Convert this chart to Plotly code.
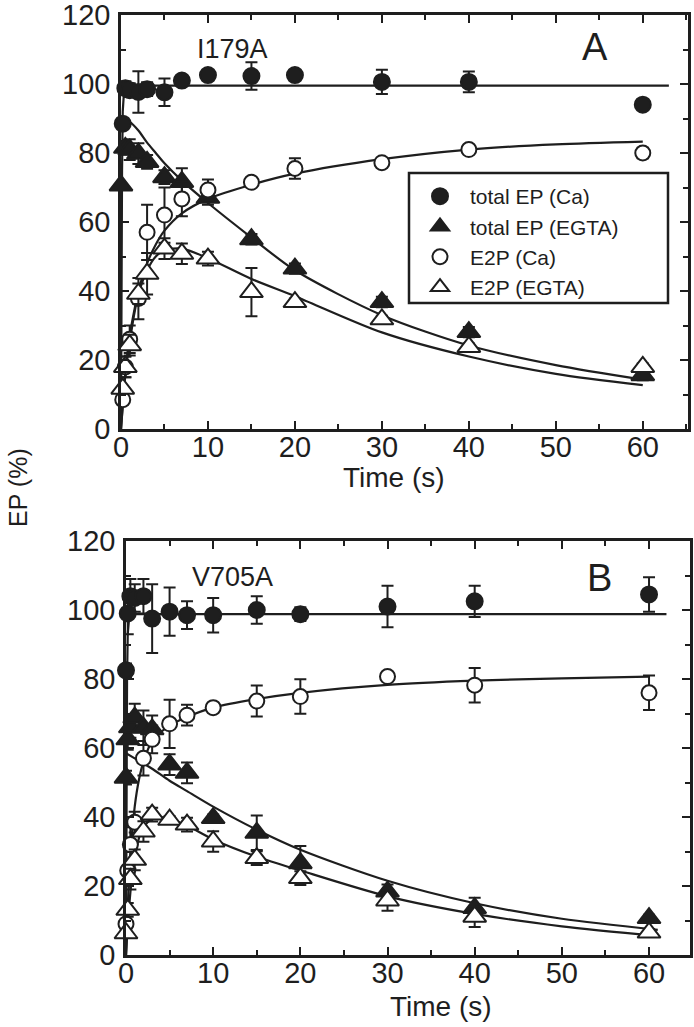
import plotly.graph_objects as go

# ---------------- Panel A : I179A ----------------
tA = [0.2, 0.5, 1, 2, 3, 5, 7, 10, 15, 20, 30, 40, 60]
tA0 = [0, 0.5, 1, 2, 3, 5, 7, 10, 15, 20, 30, 40, 60]

A_totCa = [88.5, 98.8, 98.2, 97.7, 98.5, 97.6, 101, 102.6, 102.3, 102.6, 100.6, 100.6, 94]
A_totCa_err = [0, 2, 2, 6, 2, 4, 0, 0, 4, 0, 3.5, 3, 0]

A_totEG = [70.6, 81.5, 81, 79.8, 77.4, 73, 71.6, 67, 55, 46.5, 36.8, 28.1, 15.6]
A_totEG_err = [0, 2, 3, 3, 2, 2, 4, 2, 1.5, 1.5, 1.5, 1.5, 1.5]

A_e2pCa = [8.5, 18, 26, 37.8, 57, 62, 66.7, 69.3, 71.5, 75.5, 77.2, 81, 80]
A_e2pCa_err = [0, 3, 4, 6, 8, 8, 5, 3, 0, 3, 0, 0, 1.5]

A_e2pEG = [11.7, 18, 24.3, 39.2, 45, 52.3, 50.8, 49.4, 39.7, 36.8, 31.8, 23.8, 18]
A_e2pEG_err = [0, 3, 3, 3, 6, 3, 3, 2, 7, 1, 1, 1, 1]

# fitted curves (panel A)
fA_totCa_t = [0, 0.05, 0.12, 0.2, 0.35, 0.6, 63]
fA_totCa_v = [0, 40, 75, 92, 98, 99.5, 99.5]
fA_totEG_t = [0, 1, 2, 3, 4, 5, 7, 10, 15, 20, 30, 40, 50, 60]
fA_totEG_v = [90, 89, 86.5, 83, 80, 77, 72, 65.5, 55.5, 46, 33, 24.2, 18.5, 14.3]
fA_e2pCa_t = [0, 0.3, 0.6, 1, 1.5, 2, 3, 4, 5, 7, 10, 15, 20, 30, 40, 50, 60]
fA_e2pCa_v = [0, 10, 19, 27, 34, 40, 48, 53.5, 57.5, 62.5, 66.7, 70.8, 74, 78.2, 81, 82.5, 83.3]
fA_e2pEG_t = [0, 0.3, 0.6, 1, 1.5, 2, 3, 4, 5, 7, 10, 15, 20, 30, 40, 50, 60]
fA_e2pEG_v = [0, 10, 18, 25, 33, 39, 46, 50, 51.8, 52.3, 49.5, 43.5, 38.5, 28, 21, 16, 12.7]

# ---------------- Panel B : V705A ----------------
tB = [0, 0.2, 0.5, 1, 2, 3, 5, 7, 10, 15, 20, 30, 40, 60]

B_totCa = [82.5, 99, 104, 103.5, 104, 97.5, 99.5, 98.5, 98.5, 100, 98.8, 101, 102.5, 104.5]
B_totCa_err = [2, 6, 5, 4, 5, 10, 7, 4, 5, 4, 2, 6, 4.5, 5]

B_totEG = [51.4, 62.5, 66, 68.8, 65.9, 65.4, 55.2, 52.8, 39.7, 35.4, 26.6, 18.4, 13.6, 10.7]
B_totEG_err = [2, 3, 3, 4, 5, 4, 3, 3, 1, 5, 5, 2, 3, 1]

B_e2pCa = [9, 24.5, 32, 38.5, 57, 62.5, 67, 69.5, 71.7, 73.6, 74.9, 80.7, 78.2, 76]
B_e2pCa_err = [1, 2, 5, 3, 5, 4, 7, 3, 0, 4.5, 5, 1, 5, 5]

B_e2pEG = [6.3, 13.1, 22, 27.6, 35.8, 40.7, 39.2, 37.8, 32.9, 28.1, 22.3, 15.8, 11.1, 6.5]
B_e2pEG_err = [1, 2, 3, 3, 3, 2, 1, 2, 3, 2, 2, 3, 3, 1]

fB_totCa_t = [0, 0.05, 0.12, 0.2, 0.35, 0.6, 62]
fB_totCa_v = [0, 45, 80, 93, 97.5, 98.8, 98.8]
fB_totEG_t = [0, 1, 2, 3, 5, 7, 10, 15, 20, 30, 40, 50, 61]
fB_totEG_v = [58.5, 57, 55.5, 54, 50.5, 47.5, 43, 36.3, 30.5, 21.5, 15, 10.5, 7.3]
fB_e2pCa_t = [0, 0.2, 0.5, 1, 1.5, 2, 3, 5, 7, 10, 15, 20, 30, 40, 50, 60]
fB_e2pCa_v = [0, 14, 29, 43, 51, 56, 62, 66.5, 69, 71.7, 74.2, 76, 78.3, 79.5, 80.2, 80.7]
fB_e2pEG_t = [0, 0.3, 0.7, 1, 1.5, 2, 3, 4, 5, 7, 10, 15, 20, 30, 40, 50, 61]
fB_e2pEG_v = [0, 12, 23, 28, 34, 37, 39.5, 40, 39.5, 37.5, 33.5, 28.5, 24.5, 17, 11.9, 8.3, 5.5]

series_names = ["total EP (Ca)", "total EP (EGTA)", "E2P (Ca)", "E2P (EGTA)"]
x_ticks = [0, 10, 20, 30, 40, 50, 60]
y_ticks = [0, 20, 40, 60, 80, 100, 120]

INK = "#1e1e1e"
FONT = "Liberation Sans, Arial, Helvetica, sans-serif"
W, H = 694, 1027

fig = go.Figure()


def add_fit(t, v, xa, ya, shape="spline"):
    fig.add_trace(go.Scatter(x=t, y=v, mode="lines", showlegend=False, hoverinfo="skip",
                             line=dict(color=INK, width=2.2, shape=shape, smoothing=0.8),
                             xaxis=xa, yaxis=ya, cliponaxis=False))


def add_pts(t, v, e, symbol, fill, size, name, show, xa, ya):
    fig.add_trace(go.Scatter(x=t, y=v, mode="markers", name=name, showlegend=show,
                             marker=dict(symbol=symbol, size=size, color=fill,
                                         line=dict(color=INK, width=2)),
                             error_y=dict(type="data", array=e, visible=True, color=INK,
                                          thickness=2, width=6),
                             xaxis=xa, yaxis=ya, cliponaxis=False))


# panel A fits
add_fit(fA_totCa_t, fA_totCa_v, "x", "y", "linear")
add_fit(fA_totEG_t, fA_totEG_v, "x", "y")
add_fit(fA_e2pCa_t, fA_e2pCa_v, "x", "y")
add_fit(fA_e2pEG_t, fA_e2pEG_v, "x", "y")
# panel B fits
add_fit(fB_totCa_t, fB_totCa_v, "x2", "y2", "linear")
add_fit(fB_totEG_t, fB_totEG_v, "x2", "y2")
add_fit(fB_e2pCa_t, fB_e2pCa_v, "x2", "y2")
add_fit(fB_e2pEG_t, fB_e2pEG_v, "x2", "y2")

# panel A points
add_pts(tA, A_totCa, A_totCa_err, "circle", INK, 16, series_names[0], True, "x", "y")
add_pts(tA0, A_totEG, A_totEG_err, "triangle-up", INK, 20, series_names[1], True, "x", "y")
add_pts(tA, A_e2pCa, A_e2pCa_err, "circle", "white", 15, series_names[2], True, "x", "y")
add_pts(tA, A_e2pEG, A_e2pEG_err, "triangle-up", "white", 20, series_names[3], True, "x", "y")
# panel B points
add_pts(tB, B_totCa, B_totCa_err, "circle", INK, 16, series_names[0], False, "x2", "y2")
add_pts(tB, B_totEG, B_totEG_err, "triangle-up", INK, 20, series_names[1], False, "x2", "y2")
add_pts(tB, B_e2pCa, B_e2pCa_err, "circle", "white", 15, series_names[2], False, "x2", "y2")
add_pts(tB, B_e2pEG, B_e2pEG_err, "triangle-up", "white", 20, series_names[3], False, "x2", "y2")


def px_x(p):
    return p / W


def px_y(p):
    return 1 - p / H


axis_common = dict(showline=True, linecolor=INK, linewidth=2.5, mirror="ticks",
                   ticks="inside", ticklen=8, tickwidth=2, tickcolor=INK,
                   showgrid=False, zeroline=False, automargin=False,
                   ticklabeloverflow="allow",
                   tickfont=dict(family=FONT, size=29, color=INK))
minor_x = dict(dtick=5, ticks="inside", ticklen=5, tickwidth=2, tickcolor=INK)
minor_y = dict(dtick=10, ticks="inside", ticklen=5, tickwidth=2, tickcolor=INK)

fig.update_layout(
    width=W, height=H, margin=dict(l=0, r=0, t=0, b=0),
    paper_bgcolor="white", plot_bgcolor="white",
    font=dict(family=FONT, color=INK),
    xaxis=dict(domain=[px_x(121), px_x(688)], range=[0, 65.2], anchor="y",
               tickvals=x_ticks, minor=minor_x, ticklabelstandoff=-10, **axis_common),
    yaxis=dict(domain=[px_y(429), px_y(15)], range=[0, 120], anchor="x",
               tickvals=y_ticks, minor=minor_y, ticklabelstandoff=2, **axis_common),
    xaxis2=dict(domain=[px_x(126), px_x(690)], range=[0, 64.7], anchor="y2",
                tickvals=x_ticks, minor=minor_x, ticklabelstandoff=-10, **axis_common),
    yaxis2=dict(domain=[px_y(955), px_y(541)], range=[0, 120], anchor="x2",
                tickvals=y_ticks, minor=minor_y, ticklabelstandoff=2, **axis_common),
    legend=dict(x=px_x(410), y=px_y(176), xanchor="left", yanchor="top",
                bgcolor="rgba(0,0,0,0)", borderwidth=0, itemwidth=50,
                font=dict(family=FONT, size=21, color=INK)),
    showlegend=True,
)

fig.add_shape(type="rect", xref="paper", yref="paper",
              x0=px_x(409), x1=px_x(668), y0=px_y(303), y1=px_y(173),
              line=dict(color=INK, width=2.5), fillcolor="rgba(0,0,0,0)")


def ann(text, xp, yp, size, angle=0):
    fig.add_annotation(text=text, x=px_x(xp), y=px_y(yp), xref="paper", yref="paper",
                       showarrow=False, xanchor="center", yanchor="middle", textangle=angle,
                       font=dict(family=FONT, size=size, color=INK))


ann("I179A", 232, 49, 27)
ann("A", 595, 47, 38)
ann("V705A", 232, 577, 27)
ann("B", 599, 578, 38)
ann("Time (s)", 394, 477, 28)
ann("Time (s)", 441, 1006, 28)
ann("EP (%)", 18, 488, 25, -90)

fig.write_html("out.html", post_script="document.body.style.margin='0px';",
               config={"displayModeBar": False})
